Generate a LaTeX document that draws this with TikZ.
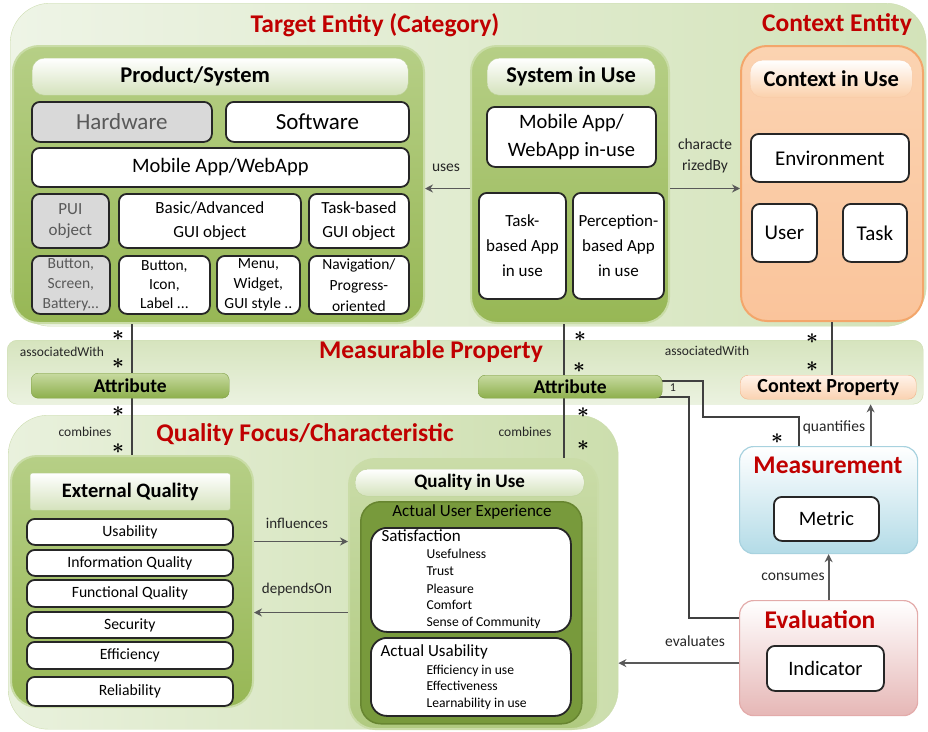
\documentclass[tikz,border=0pt]{standalone}
\usepackage{fontspec}
\setmainfont{Carlito}
\usetikzlibrary{arrows.meta}

\definecolor{titlered}{HTML}{C00000}
\definecolor{bandlt}{HTML}{EEF4E6}
\definecolor{banddk}{HTML}{D3E3B9}
\definecolor{bandrim}{HTML}{CDDDB0}
\definecolor{panelhi}{HTML}{B6CF86}
\definecolor{panello}{HTML}{97B755}
\definecolor{panelrim}{HTML}{C9DCA6}
\definecolor{headlo}{HTML}{D4E2BC}
\definecolor{headrim}{HTML}{BCD197}
\definecolor{hwgray}{HTML}{D9D9D9}
\definecolor{hwtext}{HTML}{595959}
\definecolor{ctxhi}{HTML}{FBD3B1}
\definecolor{ctxmid}{HTML}{F79B52}
\definecolor{ctxlo}{HTML}{FAC49B}
\definecolor{ctxrim}{HTML}{F3A66B}
\definecolor{ctxheadlo}{HTML}{FBD1AC}
\definecolor{mptop}{HTML}{D6E4BE}
\definecolor{mpbot}{HTML}{EBF2E0}
\definecolor{attrhi}{HTML}{C7DAA0}
\definecolor{attrlo}{HTML}{8DAF4C}
\definecolor{attrrim}{HTML}{7E9E44}
\definecolor{cphi}{HTML}{FFF3EA}
\definecolor{cplo}{HTML}{FAD2B1}
\definecolor{cprim}{HTML}{F2B58A}
\definecolor{qbandlt}{HTML}{E9F1DD}
\definecolor{qbanddk}{HTML}{CCDEAD}
\definecolor{qiuhi}{HTML}{CADCA8}
\definecolor{qiulo}{HTML}{B0CA80}
\definecolor{auxfill}{HTML}{789A3C}
\definecolor{auxrim}{HTML}{678530}
\definecolor{measlo}{HTML}{B3DBE7}
\definecolor{measrim}{HTML}{A8D2DF}
\definecolor{evallo}{HTML}{E6B7B6}
\definecolor{evalrim}{HTML}{E3ABAA}
\definecolor{linegray}{HTML}{404040}
\definecolor{arrowgray}{HTML}{595959}
\definecolor{labelgray}{HTML}{262626}

\tikzset{
    box/.style 2 args={anchor=north west, inner sep=0pt, align=center,
        minimum width=#1pt, minimum height=#2pt},
    fnt/.style 2 args={font=\fontsize{#1}{#2}\selectfont},
    bfnt/.style 2 args={font=\fontsize{#1}{#2}\selectfont\bfseries},
    greenpanel/.style={rounded corners=26pt, draw=panelrim, line width=2pt,
        top color=panelhi, bottom color=panello},
    header/.style={rounded corners=12pt, draw=headrim, top color=white,
        bottom color=headlo, bfnt={22.5}{26}},
    item/.style={rounded corners=8pt, draw=black!85, line width=1.8pt, fill=white},
    grayitem/.style={item, fill=hwgray, text=hwtext},
    redtitle/.style={text=titlered, bfnt={25.5}{30}},
    attrbar/.style={rounded corners=7pt, draw=attrrim, top color=attrhi,
        bottom color=attrlo, bfnt={19.5}{22}},
    conn/.style={draw=linegray, line width=1.8pt},
    arr/.style={draw=arrowgray, line width=1.8pt, -{Stealth[length=8pt,width=8pt]}},
    lbl/.style={text=labelgray, align=center, fnt={15.5}{21}},
    mult/.style={inner sep=0pt, font=\fontsize{20}{20}\selectfont\boldmath}
}

\begin{document}
\begin{tikzpicture}[x=1pt, y=-1pt]
    \useasboundingbox (0,0) rectangle (928,731);

    % bands
    \node[box={916}{323}, rounded corners=40pt, draw=bandrim, left color=bandlt,
        right color=banddk] (target) at (10,3) {};
    \node[box={916}{64}, rounded corners=10pt, draw=bandrim, top color=mptop,
        bottom color=mpbot] (measband) at (7,340) {};
    \node[box={610}{314}, rounded corners=40pt, draw=bandrim, left color=qbandlt,
        right color=qbanddk] (qfocus) at (8,415) {};

    \node[redtitle] (targettitle) at (375,25) {Target Entity (Category)};
    \node[redtitle] (ctxtitle) at (837,25) {Context Entity};
    \node[redtitle] (mptitle) at (431,352) {Measurable Property};
    \node[redtitle] (qftitle) at (305,435) {Quality Focus/Characteristic};

    % product / system
    \node[greenpanel, box={411}{277}] (prod) at (12,45) {};
    \node[header, box={376}{37}] (prodhead) at (32,58) {Product/System\hspace*{50pt}};
    \node[grayitem, box={180}{40}, fnt={23}{26}] (hw) at (31,101) {Hardware};
    \node[item, box={183}{40}, fnt={23}{26}] (sw) at (225,101) {Software};
    \node[item, box={377}{39}, fnt={20.5}{24}] (mob) at (31,147) {Mobile App/WebApp};
    \node[grayitem, box={77}{54}, fnt={17}{21}] (pui) at (31,193) {PUI\\object};
    \node[item, box={182}{54}, fnt={17}{24}] (gui) at (118,193) {Basic/Advanced\\GUI object};
    \node[item, box={100}{54}, fnt={17}{24}] (tgui) at (308,193) {Task-based\\GUI object};
    \node[grayitem, box={78}{58}, fnt={15.5}{20}] (pbtn) at (31,255) {Button,\\Screen,\\Battery...};
    \node[item, box={91}{58}, fnt={15.5}{19}] (gbtn) at (118,255) {Button,\\Icon,\\Label ...};
    \node[item, box={83}{58}, fnt={15.5}{20}] (menu) at (216,255) {Menu,\\Widget,\\GUI style ..};
    \node[item, box={100}{58}, fnt={15.5}{21}] (nav) at (308,255) {Navigation/\\Progress-\\oriented};

    % system in use
    \node[greenpanel, box={198}{277}] (sysuse) at (470,45) {};
    \node[header, box={168}{37}] (sushead) at (487,58) {System in Use};
    \node[item, box={169}{60}, fnt={20.5}{28}] (mobuse) at (486,106) {Mobile App/\\WebApp in-use};
    \node[item, box={87}{106}, fnt={17}{25}] (taskapp) at (478,192) {Task-\\based App\\in use};
    \node[item, box={91}{106}, fnt={17}{25}] (percapp) at (572,192) {Perception-\\based App\\in use};

    % context in use
    \node[box={182}{275}, rounded corners=26pt, draw=ctxrim, line width=2pt,
        top color=ctxhi, middle color=ctxmid, bottom color=ctxlo] (ctxuse) at (740,45) {};
    \node[header, box={162}{37}, draw=ctxrim!60, bottom color=ctxheadlo] (ctxhead) at (750,60) {Context in Use};
    \node[item, box={158}{48}, fnt={21}{24}] (env) at (750,133) {Environment};
    \node[item, box={65}{58}, fnt={21}{24}] (user) at (751,203) {User};
    \node[item, box={64}{58}, fnt={21}{24}] (task) at (842,203) {Task};

    % external quality
    \node[greenpanel, box={242}{251}] (extq) at (10,455) {};
    \node[header, box={200}{37}, rounded corners=2pt, bfnt={20.5}{24}] (extqhead) at (30,473) {External Quality};
    \foreach \nm/\txt/\yy/\hh in {usab/Usability/518/26, info/Information Quality/549/26,
        func/Functional Quality/579/27, sec/Security/611/26, eff/Efficiency/641/27,
        rel/Reliability/676/29} {
        \node[item, box={206}{\hh}, fnt={15.7}{18}] (\nm) at (26,\yy) {\txt};
    }

    % quality in use
    \node[greenpanel, box={249}{270}, draw=qiuhi, top color=qiuhi, bottom color=qiulo] (qiu) at (348,458) {};
    \node[header, box={229}{27}, bfnt={19}{22}] (qiuhead) at (355,469) {Quality in Use};
    \node[box={221}{222}, rounded corners=20pt, draw=auxrim, line width=1.5pt, fill=auxfill] (aux) at (360,501) {};
    \node[fnt={17}{20}] (auxtitle) at (472,512) {Actual User Experience};
    \node[item, box={200}{104}, rounded corners=16pt] (sat) at (370,527) {};
    \node[item, box={200}{78}, rounded corners=16pt] (ausab) at (370,637) {};
    \node[fnt={17}{20}, anchor=base west] (sattitle) at (378,541) {Satisfaction};
    \node[fnt={17}{20}, anchor=base west] (ausabtitle) at (377,656) {Actual Usability};
    \foreach \txt/\yy [count=\i] in {Usefulness/558, Trust/575, Pleasure/593, Comfort/609,
        Sense of Community/626} {
        \node[fnt={13.6}{16}, anchor=base west] (sat\i) at (423,\yy) {\txt};
    }
    \foreach \txt/\yy [count=\i] in {Efficiency in use/674, Effectiveness/690,
        Learnability in use/707} {
        \node[fnt={13.6}{16}, anchor=base west] (ausab\i) at (423,\yy) {\txt};
    }

    % measurement and evaluation
    \node[box={178}{107}, rounded corners=14pt, draw=measrim, line width=1.2pt,
        top color=white, bottom color=measlo] (meas) at (739,446) {};
    \node[redtitle] (meastitle) at (828,465) {Measurement};
    \node[item, box={105}{44}, fnt={20.5}{24}] (metric) at (773,496) {Metric};
    \node[box={178}{115}, rounded corners=14pt, draw=evalrim, line width=1.2pt,
        top color=white, bottom color=evallo] (eval) at (739,600) {};
    \node[redtitle] (evaltitle) at (820,620) {Evaluation};
    \node[item, box={117}{45}, fnt={20.5}{24}] (indic) at (766,645) {Indicator};

    % arrows between entities
    \draw[arr] ([yshift=-4pt]sysuse.west) -- ([yshift=-4pt]prod.east);
    \draw[arr] ([yshift=-4pt]sysuse.east) -- ([yshift=-4pt]sysuse.east -| ctxuse.west);
    \draw[arr] ([yshift=40pt]extq.east) -- ([yshift=40pt]extq.east -| qiu.west);
    \draw[arr] ([yshift=-31pt]extq.east -| qiu.west) -- ([yshift=-31pt]extq.east);
    \draw[arr] ([yshift=-5pt]eval.west) -- ([yshift=-5pt]eval.west -| qfocus.east);
    \draw[arr] (eval.north) -- (eval.north |- meas.south);
    \draw[arr] ([xshift=42pt]meas.north) -- ([xshift=42pt]meas.north |- measband.south);

    % plain links
    \draw[conn] (prod.south -| extq.north) -- (extq.north);
    \draw[conn] ([xshift=-6pt]sysuse.south) -- ([xshift=-6pt]sysuse.south |- qiu.north);
    \draw[conn] (ctxuse.south) -- ++(0,55);
    \draw[conn] (662,381) -| ++(41,36) -| ([xshift=-30pt]meas.north);
    \draw[conn] (656,397) -| ([xshift=-50pt,yshift=-18pt]eval.north west)
        -- ([yshift=-18pt]eval.north west);

    % attribute bars
    \node[attrbar, box={198}{25}] (attrL) at (31,373) {Attribute};
    \node[attrbar, box={184}{23}] (attrR) at (478,375) {Attribute};
    \node[box={176}{24}, rounded corners=8pt, draw=cprim, top color=cphi, bottom color=cplo,
        bfnt={20}{22}] (ctxprop) at (740,375) {Context Property};

    % link labels
    \node[lbl] (useslbl) at (446,168) {uses};
    \node[lbl] (charlbl) at (705,156) {characte\\rizedBy};
    \node[lbl, fnt={13.5}{16}] (assocL) at (62,352) {associatedWith};
    \node[lbl, fnt={13.5}{16}] (assocR) at (707,351) {associatedWith};
    \node[lbl, fnt={13.5}{16}] (combL) at (85,432) {combines};
    \node[lbl, fnt={13.5}{16}] (combR) at (525,432) {combines};
    \node[lbl, fnt={12}{14}] (onelbl) at (673,388) {1};
    \node[lbl] (quantlbl) at (834,427) {quantifies};
    \node[lbl] (conslbl) at (793,577) {consumes};
    \node[lbl] (evallbl) at (695,641) {evaluates};
    \node[lbl, fnt={15}{18}] (inflbl) at (297,523) {influences};
    \node[lbl, fnt={15}{18}] (deplbl) at (297,589) {dependsOn};

    % multiplicities
    \foreach \x/\y [count=\i] in {118/336, 118/364, 118/412, 118/449, 580/337, 579/368,
        583/413, 583/446, 812/339, 812/367, 777/439} {
        \node[mult] (star\i) at (\x,\y) {$\ast$};
    }
\end{tikzpicture}
\end{document}
